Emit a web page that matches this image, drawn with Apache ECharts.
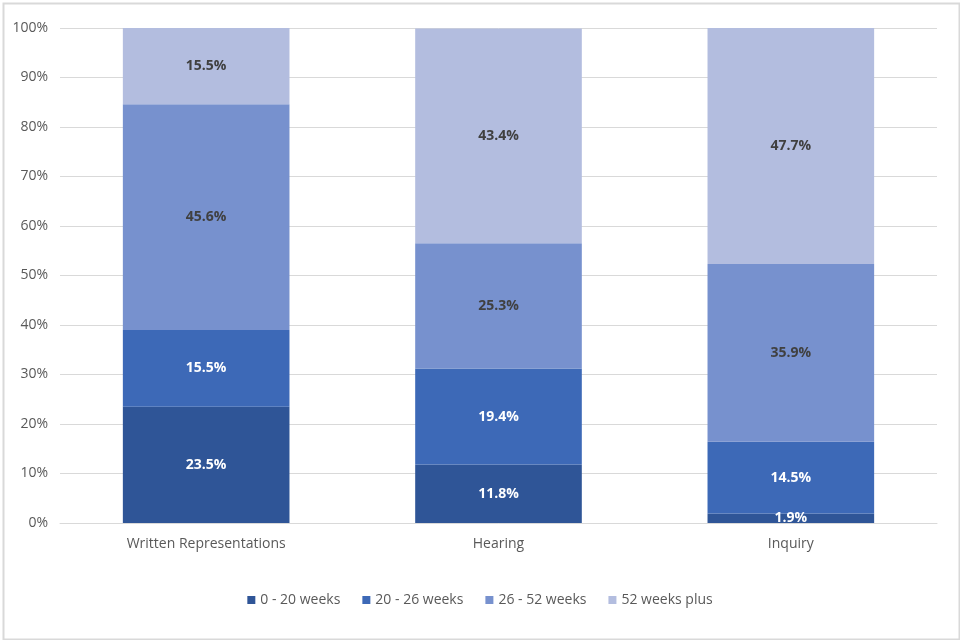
<!DOCTYPE html>
<html><head><meta charset="utf-8">
<script src="https://cdn.jsdelivr.net/npm/echarts@6/dist/echarts.min.js"></script>
<style>html,body{margin:0;padding:0;background:#fff}#c{width:960px;height:640px}</style>
</head><body><div id="c"></div>
<script>
const categories = ['Written Representations', 'Hearing', 'Inquiry'];
const seriesNames = ['0 - 20 weeks', '20 - 26 weeks', '26 - 52 weeks', '52 weeks plus'];
const s0to20 = [23.5, 11.8, 1.9];
const s20to26 = [15.5, 19.4, 14.5];
const s26to52 = [45.6, 25.3, 35.9];
const s52plus = [15.5, 43.4, 47.7];
const yTicks = [0, 10, 20, 30, 40, 50, 60, 70, 80, 90, 100];

const colors = ['#2F5597', '#3D69B7', '#7791CE', '#B3BDDF'];
const labelColors = ['#ffffff', '#ffffff', '#404040', '#404040'];
const font = "'Liberation Sans Narrow', 'Open Sans', sans-serif";
const data = [s0to20, s20to26, s26to52, s52plus];

const chart = echarts.init(document.getElementById('c'));
chart.setOption({
  animation: false,
  textStyle: { fontFamily: font },
  graphic: [{ type: 'rect', left: 1, top: 1, shape: { width: 956, height: 636 }, style: { fill: 'none', stroke: '#d9d9d9', lineWidth: 2 } }],
  grid: { left: 60, right: 23, top: 28, bottom: 117 },
  legend: {
    bottom: 28, itemWidth: 8, itemHeight: 8, itemGap: 22, icon: 'rect',
    textStyle: { fontFamily: font, fontSize: 14, color: '#595959' },
    data: seriesNames
  },
  xAxis: {
    type: 'category', data: categories,
    axisLine: { lineStyle: { color: '#d9d9d9' } },
    axisTick: { show: false },
    axisLabel: { fontFamily: font, fontSize: 14, color: '#595959', margin: 14 }
  },
  yAxis: {
    type: 'value', min: yTicks[0], max: yTicks[yTicks.length - 1], interval: 10,
    axisLabel: { formatter: '{value}%', fontFamily: font, fontSize: 14, color: '#595959', margin: 12 },
    splitLine: { lineStyle: { color: '#d9d9d9' } }
  },
  series: data.map((d, i) => ({
    name: seriesNames[i], type: 'bar', stack: 'total', data: d,
    barWidth: '57%',
    itemStyle: { color: colors[i] },
    label: { show: true, position: 'inside', formatter: '{c}%', fontFamily: font, fontSize: 14, fontWeight: 'bold', color: labelColors[i] }
  }))
});
</script></body></html>
